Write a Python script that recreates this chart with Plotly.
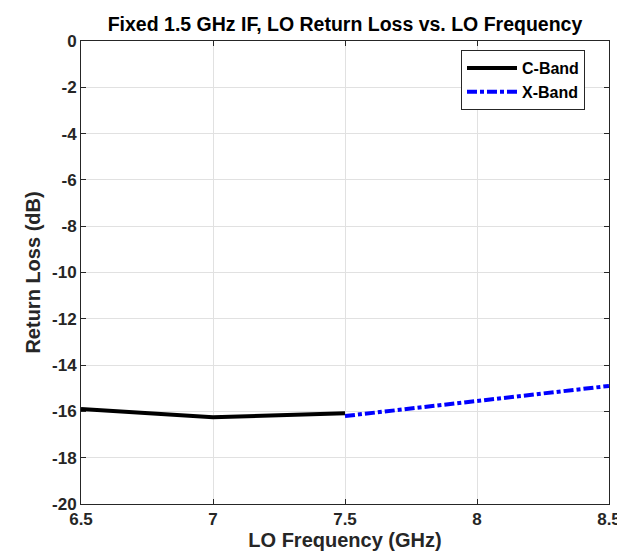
import plotly.graph_objects as go

c_freq = [6.5, 7.0, 7.5]
c_rl = [-15.9, -16.25, -16.08]
x_freq = [7.5, 8.0, 8.5]
x_rl = [-16.2, -15.55, -14.9]

x_ticks = [6.5, 7, 7.5, 8, 8.5]
x_tick_labels = ["6.5", "7", "7.5", "8", "8.5"]
y_ticks = [0, -2, -4, -6, -8, -10, -12, -14, -16, -18, -20]
y_tick_labels = ["0", "-2", "-4", "-6", "-8", "-10", "-12", "-14", "-16", "-18", "-20"]

FONT = "Liberation Sans, Arial, Helvetica, sans-serif"
TXT = "#262626"

fig = go.Figure()
fig.add_trace(go.Scatter(x=c_freq, y=c_rl, mode="lines", name="<b>C-Band</b>",
                         line=dict(color="black", width=4)))
fig.add_trace(go.Scatter(x=x_freq, y=x_rl, mode="lines", name="<b>X-Band</b>",
                         line=dict(color="#0000ff", width=4, dash="10px,3px,4px,3px")))

axis_common = dict(showline=True, linecolor=TXT, linewidth=1, mirror="ticks",
                   ticks="inside", ticklen=5, tickcolor=TXT,
                   showgrid=True, gridcolor="#e1e1e1", gridwidth=1, zeroline=False,
                   tickfont=dict(family=FONT, size=17, color=TXT))

fig.update_layout(
    width=625, height=554,
    margin=dict(l=73, r=24, t=33, b=58),
    paper_bgcolor="white", plot_bgcolor="white",
    title=dict(text="<b>Fixed 1.5 GHz IF, LO Return Loss vs. LO Frequency</b>",
               x=(73 + 601) / 2 / 625, xanchor="center", y=1 - 16 / 554, yanchor="middle",
               font=dict(family=FONT, size=19.5, color="black")),
    xaxis=dict(range=[6.5, 8.5], tickvals=x_ticks,
               ticktext=["<b>%s</b>" % t for t in x_tick_labels],
               title=dict(text="<b>LO Frequency (GHz)</b>", standoff=4,
                          font=dict(family=FONT, size=20, color=TXT)),
               **axis_common),
    yaxis=dict(range=[-20, 0], tickvals=y_ticks,
               ticktext=["<b>%s</b>" % t for t in y_tick_labels],
               title=dict(text="<b>Return Loss (dB)</b>", standoff=6,
                          font=dict(family=FONT, size=20, color=TXT)),
               **axis_common),
    legend=dict(x=(577 - 73) / 528, xanchor="right", y=(496 - 42) / 463, yanchor="top",
                bgcolor="white", bordercolor=TXT, borderwidth=1,
                font=dict(family=FONT, size=16, color="black"),
                tracegroupgap=0, itemwidth=50),
    showlegend=True,
)

fig.write_html("out.html")
